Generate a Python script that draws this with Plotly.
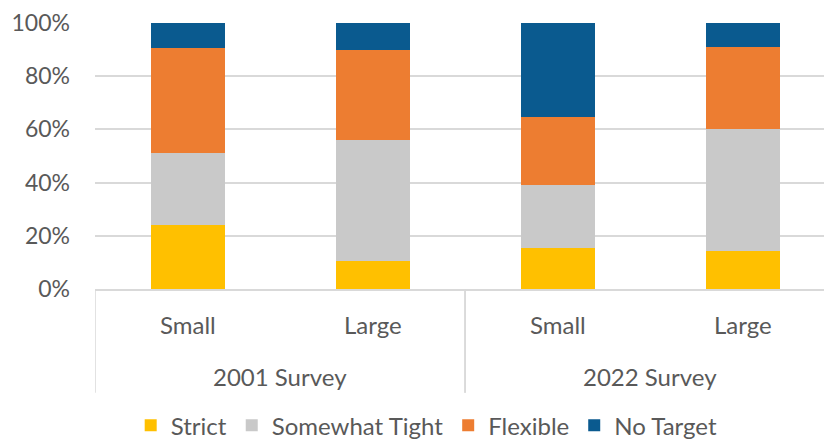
import plotly.graph_objects as go

surveys = ["2001 Survey", "2001 Survey", "2022 Survey", "2022 Survey"]
sizes = ["Small", "Large", "Small", "Large"]

strict = [0.241, 0.106, 0.155, 0.141]
somewhat_tight = [0.270, 0.453, 0.236, 0.461]
flexible = [0.395, 0.339, 0.257, 0.309]
no_target = [0.094, 0.102, 0.352, 0.089]

series_names = ["Strict", "Somewhat Tight", "Flexible", "No Target"]
series_values = [strict, somewhat_tight, flexible, no_target]
colors = ["#FFC000", "#C9C9C9", "#ED7D31", "#0A5A8F"]

FONT = "Lato"
GREY = "#595959"
LINE = "#D9D9D9"

# unique category keys built from the two label levels
cats = [f"{s} | {z}" for s, z in zip(surveys, sizes)]

fig = go.Figure()
for name, vals, col in zip(series_names, series_values, colors):
    fig.add_trace(go.Bar(
        x=cats, y=vals, name=name,
        marker=dict(color=col, line=dict(width=0)),
    ))

# inner labels (Small / Large)
for i, z in enumerate(sizes):
    fig.add_annotation(x=cats[i], xref="x", y=-0.135, yref="paper", text=z,
                       showarrow=False, yanchor="middle",
                       font=dict(family=FONT, size=24, color=GREY))

# group labels and dividers
groups = []
for i, s in enumerate(surveys):
    if not groups or groups[-1][0] != s:
        groups.append([s, i, i])
    else:
        groups[-1][2] = i
for s, a, b in groups:
    fig.add_annotation(x=(a + b) / 2, xref="x", y=-0.33, yref="paper", text=s,
                       showarrow=False, yanchor="middle",
                       font=dict(family=FONT, size=24, color=GREY))
    for edge in (a - 0.5, b + 0.5):
        fig.add_shape(type="line", xref="x", yref="paper", x0=edge, x1=edge,
                      y0=0, y1=-0.39, line=dict(color=LINE, width=1.5))

fig.update_layout(
    barmode="stack",
    bargap=0.6,
    width=824, height=441,
    margin=dict(l=95, r=0, t=23, b=152, autoexpand=False),
    paper_bgcolor="white", plot_bgcolor="white",
    font=dict(family=FONT, size=23, color=GREY),
    showlegend=True,
    legend=dict(orientation="h", x=0.455, xanchor="center",
                yref="container", y=0.035, yanchor="middle",
                itemwidth=30, font=dict(family=FONT, size=24, color=GREY),
                traceorder="normal"),
)
fig.update_yaxes(range=[0, 1], dtick=0.2, tickformat=".0%", showgrid=True,
                 gridcolor=LINE, gridwidth=1.5, zeroline=False,
                 showline=False, ticks="", ticklabelstandoff=24, automargin=False,
                 tickfont=dict(family=FONT, size=23, color=GREY))
fig.update_xaxes(type="category", range=[-0.5, 3.44], showline=True,
                 linecolor=LINE, linewidth=1.5, ticks="", showticklabels=False,
                 automargin=False)

fig.write_html("out.html", config={"displayModeBar": False},
               post_script="document.body.style.margin='0';document.body.style.overflow='hidden';")
